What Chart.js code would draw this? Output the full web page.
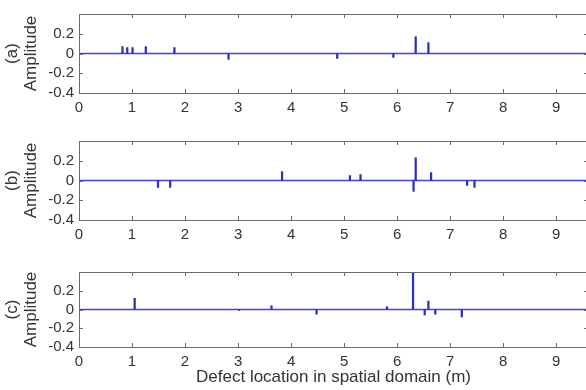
<!DOCTYPE html>
<html>
<head>
<meta charset="utf-8">
<script src="https://cdn.jsdelivr.net/npm/chart.js@4.4.1/dist/chart.umd.min.js"></script>
<style>
  html, body { margin: 0; padding: 0; background: #fff; overflow: hidden; width: 586px; height: 390px; }
  .panel { position: absolute; left: 0; width: 590px; }
  canvas { display: block; }
</style>
</head>
<body>
<div class="panel" id="pa" style="top:0px;height:117px"><canvas id="ca" width="590" height="117"></canvas></div>
<div class="panel" id="pb" style="top:127px;height:117px"><canvas id="cb" width="590" height="117"></canvas></div>
<div class="panel" id="pc" style="top:258px;height:132px"><canvas id="cc" width="590" height="132"></canvas></div>
<script>
// ---- data ----
const xTickValues = [0, 1, 2, 3, 4, 5, 6, 7, 8, 9];
const yTickValues = [-0.4, -0.2, 0, 0.2, 0.4];
const panelLabels = ['(a)', '(b)', '(c)'];
const yAxisTitle = 'Amplitude';
const xAxisTitle = 'Defect location in spatial domain (m)';
const xMin = 0, xMax = 9.6;

const locA = [0.82, 0.91, 1.01, 1.26, 1.80, 2.82, 4.87, 5.93, 6.35, 6.59];
const ampA = [0.07, 0.06, 0.06, 0.07, 0.06, -0.06, -0.05, -0.04, 0.17, 0.11];

const locB = [1.49, 1.72, 3.83, 5.11, 5.31, 6.31, 6.35, 6.64, 7.32, 7.46];
const ampB = [-0.07, -0.07, 0.09, 0.05, 0.06, -0.11, 0.23, 0.08, -0.05, -0.07];

const locC = [1.05, 3.02, 3.63, 4.48, 5.81, 6.30, 6.52, 6.59, 6.72, 7.22];
const ampC = [0.12, -0.01, 0.04, -0.05, 0.03, 0.40, -0.06, 0.09, -0.05, -0.08];

// ---- styling ----
const FONT = "'Liberation Sans', Arial, Helvetica, sans-serif";
const TEXT = '#333333';
const BOX = '#6a6a6a';
const STEM = '#2f2fbf';
const BASE = '#4040ee';

const boxPlugin = {
  id: 'boxTicks',
  afterDatasetsDraw(chart) {
    const {ctx, chartArea: a, scales: {x, y}} = chart;
    ctx.save();
    ctx.strokeStyle = BOX;
    ctx.lineWidth = 1;
    ctx.beginPath();
    ctx.rect(Math.round(a.left) + 0.5, Math.round(a.top) + 0.5, Math.round(a.right - a.left), Math.round(a.bottom - a.top));
    const tl = 4;
    xTickValues.forEach(v => {
      const px = Math.round(x.getPixelForValue(v)) + 0.5;
      ctx.moveTo(px, a.bottom); ctx.lineTo(px, a.bottom - tl);
      ctx.moveTo(px, a.top); ctx.lineTo(px, a.top + tl);
    });
    yTickValues.forEach(v => {
      const py = Math.round(y.getPixelForValue(v)) + 0.5;
      ctx.moveTo(a.left, py); ctx.lineTo(a.left + tl, py);
      ctx.moveTo(a.right, py); ctx.lineTo(a.right - tl, py);
    });
    ctx.stroke();
    ctx.restore();
  }
};

function makePanel(canvasId, label, locs, amps, padTop, xAxisHeight, showXTitle) {
  const stems = locs.map((v, i) => ({x: v, y: amps[i]}));
  return new Chart(document.getElementById(canvasId), {
    type: 'bar',
    data: {
      datasets: [
        {
          type: 'line',
          data: [{x: xMin, y: 0}, {x: xMax, y: 0}],
          borderColor: BASE,
          borderWidth: 1.6,
          pointRadius: 0,
          order: 2
        },
        {
          type: 'bar',
          data: stems,
          backgroundColor: STEM,
          borderWidth: 0,
          barThickness: 1.6,
          order: 1
        }
      ]
    },
    options: {
      responsive: false,
      animation: false,
      devicePixelRatio: 1,
      layout: { padding: { top: padTop, right: 2, left: 0, bottom: 0 } },
      plugins: { legend: { display: false }, tooltip: { enabled: false } },
      scales: {
        x: {
          type: 'linear',
          offset: false,
          min: xMin, max: xMax,
          grid: { display: false, drawTicks: false, offset: false },
          border: { display: false },
          afterBuildTicks: s => { s.ticks = xTickValues.map(v => ({value: v})); },
          afterFit: s => { s.height = xAxisHeight; },
          ticks: {
            padding: 6,
            autoSkip: false,
            color: TEXT,
            font: { family: FONT, size: 15 },
            maxRotation: 0,
            callback: v => String(v)
          },
          title: {
            display: showXTitle,
            text: xAxisTitle,
            color: TEXT,
            font: { family: FONT, size: 17 },
            padding: { top: 0, bottom: 2 }
          }
        },
        y: {
          min: -0.4, max: 0.4,
          grid: { display: false, drawTicks: false },
          border: { display: false },
          afterBuildTicks: s => { s.ticks = yTickValues.map(v => ({value: v})); },
          afterFit: s => { s.width = 79; },
          ticks: {
            padding: 5,
            autoSkip: false,
            color: TEXT,
            font: { family: FONT, size: 15 },
            callback: v => (Math.abs(v - 0.4) < 1e-9 ? '' : (Math.abs(v) < 1e-9 ? '0' : String(Math.round(v * 10) / 10)))
          },
          title: {
            display: true,
            text: [label, yAxisTitle],
            color: TEXT,
            font: { family: FONT, size: 17, lineHeight: 1.1 },
            padding: { top: 3, bottom: 0 }
          }
        }
      }
    },
    plugins: [boxPlugin]
  });
}

makePanel('ca', panelLabels[0], locA, ampA, 10.5, 24, false);
makePanel('cb', panelLabels[1], locB, ampB, 10.7, 24, false);
makePanel('cc', panelLabels[2], locC, ampC, 10, 43, true);
</script>
</body>
</html>
